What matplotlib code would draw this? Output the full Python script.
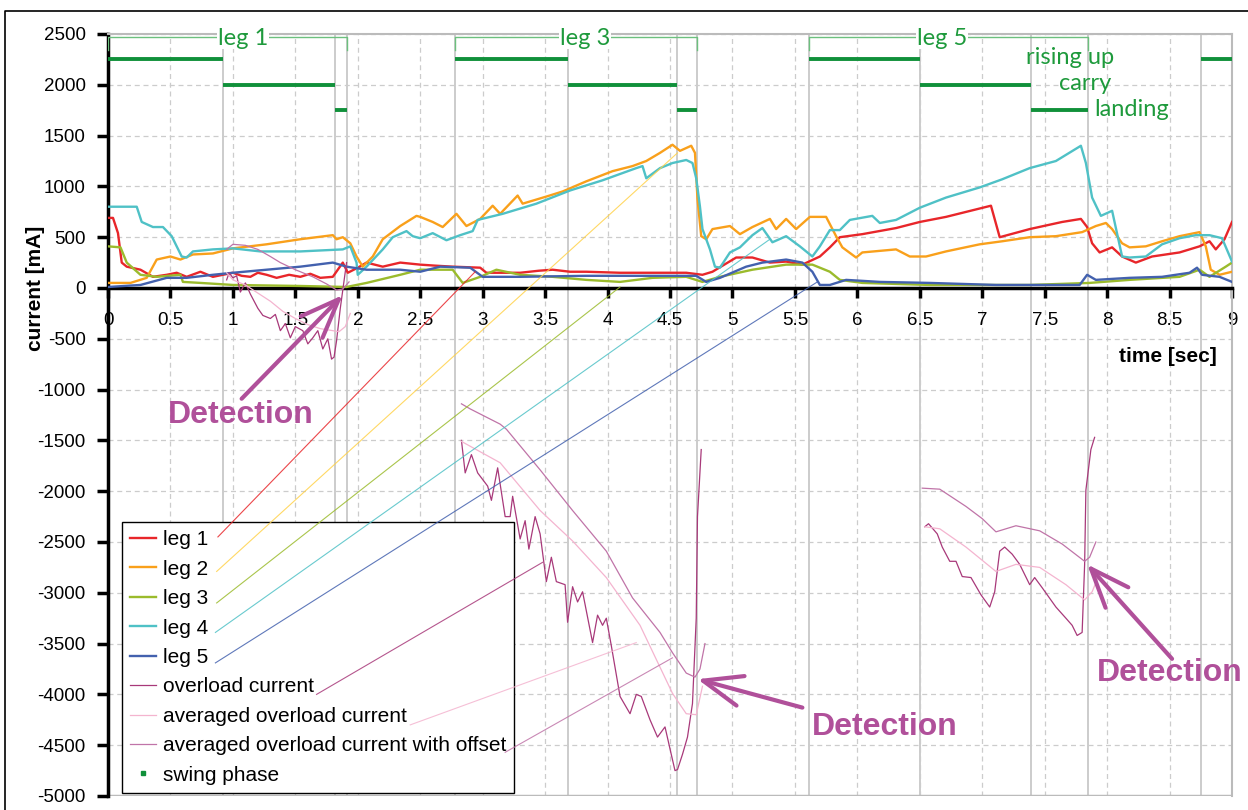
import numpy as np
import matplotlib.pyplot as plt
from matplotlib.lines import Line2D

nan = np.nan

# leg currents [mA] over time [sec]
leg1_t = [0, 0.04, 0.08, 0.11, 0.15, 0.26, 0.36, 0.47, 0.55, 0.63, 0.74, 0.84, 1.0, 1.07, 1.14, 1.2, 1.27, 1.35, 1.45,
          1.54, 1.62, 1.7, 1.8, 1.88, 1.92, 2.0, 2.07, 2.2, 2.34, 2.5, 2.62, 2.76, 2.98, 3.03, 3.3, 3.45, 3.56, 3.7, 3.83,
          4.1, 4.36, 4.63, 4.76, 4.84, 5.03, 5.16, 5.3, 5.43, 5.56, 5.7, 5.78, 5.86, 6.04, 6.31, 6.5, 6.71, 7.07, 7.14,
          7.38, 7.64, 7.79, 7.84, 7.88, 7.94, 8.04, 8.12, 8.23, 8.36, 8.58, 8.74, 8.82, 8.87, 8.94, 9.0]
leg1_v = [690, 690, 540, 250, 210, 180, 110, 130, 150, 110, 160, 110, 150, 120, 110, 150, 130, 100, 130,
          110, 140, 100, 110, 250, 150, 200, 250, 210, 250, 230, 220, 210, 200, 150, 150, 170, 180, 160, 160,
          150, 150, 150, 130, 160, 300, 300, 250, 260, 230, 310, 400, 500, 530, 590, 650, 700, 810, 500,
          580, 650, 680, 600, 440, 350, 400, 310, 250, 310, 350, 410, 460, 380, 480, 650]

leg2_t = [0, 0.18, 0.31, 0.39, 0.5, 0.58, 0.68, 0.84, 1.0, 1.27, 1.54, 1.8, 1.83, 1.88, 1.94, 1.99, 2.04, 2.12, 2.2,
          2.34, 2.47, 2.5, 2.6, 2.68, 2.79, 2.87, 2.98, 3.08, 3.14, 3.28, 3.32, 3.51, 3.64, 3.83, 4.04, 4.2, 4.31,
          4.42, 4.52, 4.58, 4.67, 4.7, 4.72, 4.75, 4.79, 4.84, 4.98, 5.06, 5.16, 5.3, 5.35, 5.43, 5.51, 5.62, 5.75,
          5.83, 5.88, 5.99, 6.04, 6.31, 6.42, 6.55, 6.71, 6.98, 7.16, 7.38, 7.59, 7.8, 7.91, 7.99, 8.04, 8.12, 8.18,
          8.31, 8.44, 8.58, 8.74, 8.79, 8.83, 8.9, 9.0]
leg2_v = [50, 50, 100, 280, 310, 280, 330, 340, 390, 430, 480, 520, 480, 500, 440, 310, 210, 310, 480,
          610, 710, 700, 650, 600, 730, 610, 680, 810, 730, 910, 830, 900, 950, 1050, 1150, 1200, 1250,
          1330, 1410, 1350, 1400, 1330, 880, 510, 480, 580, 610, 530, 600, 680, 580, 680, 580, 700, 700,
          510, 400, 300, 350, 380, 310, 310, 360, 430, 460, 500, 510, 550, 610, 640, 580, 440, 400,
          410, 460, 510, 550, 410, 180, 130, 160]

leg3_t = [0, 0.1, 0.15, 0.26, 0.39, 0.58, 0.6, 0.74, 1.0, 1.54, 1.91, 2.07, 2.34, 2.5, 2.76, 2.84, 2.98, 3.11, 3.3,
          3.56, 3.83, 4.1, 4.36, 4.63, 4.76, 4.9, 5.16, 5.43, 5.64, 5.78, 5.86, 6.04, 6.58, 7.38, 7.86, 8.18, 8.58,
          8.74, 8.82, 8.95, 9.0]
leg3_v = [410, 400, 250, 130, 110, 130, 60, 50, 30, 20, 10, 50, 130, 180, 180, 50, 110, 180, 130,
          110, 80, 60, 100, 110, 60, 110, 180, 230, 230, 160, 80, 50, 30, 30, 50, 80, 110,
          180, 110, 210, 250]

leg4_t = [0, 0.23, 0.27, 0.36, 0.44, 0.51, 0.59, 0.63, 0.68, 0.84, 1.0, 1.22, 1.54, 1.88, 1.94, 1.99, 2.0, 2.07, 2.2,
          2.28, 2.39, 2.44, 2.5, 2.6, 2.71, 2.82, 2.92, 2.96, 3.16, 3.43, 3.7, 3.96, 4.23, 4.28, 4.31, 4.42, 4.52,
          4.63, 4.68, 4.71, 4.74, 4.76, 4.82, 4.86, 4.9, 4.98, 5.06, 5.16, 5.24, 5.32, 5.43, 5.54, 5.64, 5.7, 5.78,
          5.86, 5.94, 6.12, 6.18, 6.31, 6.5, 6.71, 6.98, 7.16, 7.38, 7.59, 7.79, 7.83, 7.88, 7.95, 8.04, 8.12, 8.18,
          8.31, 8.44, 8.58, 8.71, 8.82, 8.92, 9.0]
leg4_v = [800, 800, 650, 600, 600, 510, 310, 300, 360, 380, 390, 360, 360, 380, 410, 250, 130, 210, 380,
          500, 560, 510, 490, 540, 470, 520, 560, 670, 730, 830, 960, 1060, 1180, 1200, 1080, 1180, 1230,
          1260, 1230, 1080, 800, 580, 380, 210, 200, 350, 400, 520, 590, 450, 510, 410, 310, 410, 570,
          570, 670, 710, 640, 670, 790, 890, 990, 1070, 1180, 1250, 1400, 1230, 890, 710, 760, 310, 300,
          310, 430, 490, 520, 520, 490, 260]

leg5_t = [0, 0.26, 0.47, 0.63, 0.84, 1.0, 1.27, 1.54, 1.8, 1.91, 2.07, 2.34, 2.5, 2.66, 2.9, 3.0, 3.3, 3.83, 4.36,
          4.71, 4.79, 4.9, 5.11, 5.24, 5.43, 5.56, 5.64, 5.7, 5.78, 5.91, 6.18, 6.58, 7.11, 7.78, 7.84, 7.91, 8.18,
          8.44, 8.66, 8.72, 8.76, 8.9, 9.0]
leg5_v = [10, 30, 100, 100, 130, 150, 180, 210, 250, 210, 180, 180, 160, 210, 200, 110, 110, 120, 120,
          120, 60, 100, 210, 250, 280, 250, 160, 30, 30, 80, 60, 50, 30, 30, 130, 80, 100,
          110, 150, 200, 130, 110, 60]

# overload detection signals (three windows, gaps as nan)
over_t = [0.95, 0.97, 1.0, 1.03, 1.06, 1.1, 1.14, 1.2, 1.24, 1.3, 1.34, 1.38, 1.42, 1.46, 1.5, 1.56, 1.6, 1.64,
          1.68, 1.72, 1.76, 1.79, 1.81, 1.83, 1.86, 1.88, 1.91, nan,
          2.83, 2.86, 2.91, 2.96, 3.04, 3.07, 3.12, 3.18, 3.22, 3.24, 3.3, 3.34, 3.37, 3.42, 3.46, 3.51, 3.55,
          3.59, 3.66, 3.68, 3.72, 3.76, 3.8, 3.88, 3.92, 3.96, 3.99, 4.03, 4.1, 4.18, 4.23, 4.27, 4.34, 4.4,
          4.46, 4.51, 4.54, 4.56, 4.6, 4.64, 4.68, 4.71, 4.72, 4.75, nan,
          6.54, 6.57, 6.64, 6.68, 6.74, 6.79, 6.84, 6.91, 6.99, 7.06, 7.1, 7.14, 7.18, 7.24, 7.3, 7.38, 7.42,
          7.48, 7.59, 7.67, 7.72, 7.76, 7.8, 7.82, 7.83, 7.87, 7.9]
over_v = [80, 150, 100, 120, -40, 50, -60, -200, -270, -300, -260, -420, -350, -490, -380, -420, -550, -490,
          -420, -600, -500, -700, -680, -520, -200, -20, 250, nan,
          -1500, -1820, -1640, -1820, -1950, -2090, -1770, -2250, -2250, -2050, -2470, -2290, -2570, -2250,
          -2420, -2890, -2650, -2890, -2920, -3290, -2940, -3090, -2990, -3490, -3220, -3320, -3250, -3520,
          -4020, -4190, -4000, -4020, -4250, -4420, -4320, -4590, -4750, -4740, -4590, -4420, -4090, -3250,
          -2250, -1590, nan,
          -2350, -2320, -2420, -2550, -2690, -2690, -2840, -2850, -3020, -3140, -2990, -2590, -2550, -2620,
          -2720, -2920, -2850, -2950, -3140, -3250, -3320, -3420, -3390, -2720, -1990, -1590, -1470]

avg_t = [0.95, 1.0, 1.1, 1.2, 1.3, 1.4, 1.5, 1.6, 1.7, 1.8, 1.85, 1.9, 1.94, nan,
         2.83, 3.14, 3.46, 3.72, 3.99, 4.26, 4.52, 4.63, 4.71, 4.76, nan,
         6.54, 6.66, 6.87, 7.11, 7.27, 7.46, 7.67, 7.82, 7.88, 7.92]
avg_v = [150, 80, 30, -50, -130, -230, -300, -360, -400, -420, -430, -380, -250, nan,
         -1510, -1720, -2190, -2490, -2850, -3320, -3990, -4190, -4200, -3920, nan,
         -2350, -2370, -2550, -2790, -2720, -2750, -2920, -3070, -2990, -2870]

offs_t = [0.95, 1.0, 1.1, 1.2, 1.3, 1.38, 1.5, 1.64, 1.75, 1.83, 1.88, 1.93, nan,
          2.83, 2.9, 3.14, 3.19, 3.46, 3.72, 3.99, 4.2, 4.42, 4.52, 4.63, 4.7, 4.74, 4.78, nan,
          6.52, 6.66, 6.87, 7.0, 7.11, 7.27, 7.46, 7.64, 7.82, 7.86, 7.91]
offs_v = [380, 430, 420, 380, 310, 250, 180, 110, 40, -20, -10, 60, nan,
          -1140, -1190, -1340, -1390, -1790, -2190, -2590, -3050, -3390, -3590, -3790, -3830, -3750, -3500, nan,
          -1970, -1980, -2150, -2270, -2400, -2340, -2390, -2520, -2690, -2650, -2500]

# swing phases: (start, end) per phase level
rising = [(0, 0.92), (2.78, 3.68), (5.61, 6.5), (8.75, 9.0)]
carry = [(0.92, 1.82), (3.68, 4.56), (6.5, 7.39)]
landing = [(1.82, 1.91), (4.56, 4.72), (7.39, 7.85)]
phase_bounds = [0.92, 1.82, 1.91, 2.78, 3.68, 4.56, 4.72, 5.61, 6.5, 7.39, 7.85, 8.75]
swing_legs = [("leg 1", 0, 1.91, 1.08), ("leg 3", 2.78, 4.72, 3.82), ("leg 5", 5.61, 7.85, 6.68)]

# legend leader lines: (t0, v0, t1, v1)
leaders = [(0.88, -2450, 2.94, 160), (0.87, -2790, 4.56, 1330), (0.87, -3100, 4.1, 10),
           (0.86, -3390, 5.3, 480), (0.86, -3690, 5.68, 60), (1.67, -4000, 3.48, -2700),
           (2.42, -4300, 4.23, -3490), (3.18, -4570, 4.52, -3640)]

# detection arrows: tail, tip, text position
detections = [((1.07, -1090), (1.88, -70), (1.06, -1250)),
              ((5.56, -4130), (4.72, -3850), (6.22, -4320)),
              ((8.52, -3650), (7.84, -2720), (8.5, -3790))]

c_leg = ['#e8262a', '#f9a01b', '#9bbb2c', '#4fc1c6', '#4361ae']
c_over = '#a8397a'
c_avg = '#f4b4cf'
c_offs = '#c074a8'
c_swing = '#10903a'
c_det = '#b0509a'

plt.rcParams['font.family'] = ['Liberation Sans', 'DejaVu Sans']
plt.rcParams['axes.unicode_minus'] = False

fig = plt.figure(figsize=(12.48, 8.10), dpi=100)
ax = fig.add_axes([108 / 1248, 1 - 796 / 810, 1124 / 1248, 762 / 810])

# outer border (top/left)
fig.add_artist(Line2D([5 / 1248, 5 / 1248, 1.0], [0, 1 - 11 / 810, 1 - 11 / 810],
                      transform=fig.transFigure, color='black', lw=1.2))

ax.set_xlim(0, 9)
ax.set_ylim(-5000, 2500)
ax.set_xticks(np.arange(0, 9.01, 0.5))
ax.set_xticklabels(['%g' % v for v in np.arange(0, 9.01, 0.5)])
ax.set_yticks(np.arange(-5000, 2501, 500))
ax.grid(True, color='#cccccc', linestyle=(0, (4, 3)), lw=0.9)
ax.set_axisbelow(True)

for b in phase_bounds:
    ax.axvline(b, color='#c8c8c8', lw=1.3, zorder=0.4)

ax.spines['bottom'].set_position(('data', 0))
ax.spines['bottom'].set_linewidth(2.5)
ax.spines['left'].set_linewidth(2.5)
ax.spines['top'].set_color('#bbbbbb')
ax.spines['right'].set_color('#bbbbbb')
ax.spines['top'].set_linewidth(1.5)
ax.spines['right'].set_linewidth(1.5)
ax.axhline(-5000, color='#bbbbbb', lw=2.5, zorder=1)
ax.tick_params(axis='x', direction='out', length=7, width=2.5, pad=10, labelsize=13.5)
ax.tick_params(axis='y', direction='out', length=8, width=2.5, pad=8, labelsize=13.5)
ax.set_ylabel('current [mA]', fontsize=15, fontweight='bold')
ax.yaxis.set_label_coords(-0.056, (796 - 288) / 762)
ax.text(8.88, -670, 'time [sec]', fontsize=15, fontweight='bold', ha='right', va='center')

# leader lines (drawn over the legend box)
leader_colors = ['#e8262a', '#ffd24a', '#9bbb2c', '#4fc1c6', '#4361ae', c_over, c_avg, c_offs]
for (t0, v0, t1, v1), c in zip(leaders, leader_colors):
    ax.plot([t0, t1], [v0, v1], color=c, lw=0.8, alpha=0.85, zorder=9)

names = ['leg 1', 'leg 2', 'leg 3', 'leg 4', 'leg 5']
for t, v, c, n in zip([leg1_t, leg2_t, leg3_t, leg4_t, leg5_t],
                      [leg1_v, leg2_v, leg3_v, leg4_v, leg5_v], c_leg, names):
    ax.plot(t, v, color=c, lw=1.7, zorder=3, label=n)

ax.plot(over_t, over_v, color=c_over, lw=0.9, zorder=4, label='overload current')
ax.plot(avg_t, avg_v, color=c_avg, lw=0.9, zorder=4, label='averaged overload current')
ax.plot(offs_t, offs_v, color=c_offs, lw=0.9, zorder=4, label='averaged overload current with offset')

# swing phases
for y, segs in zip([2250, 2000, 1750], [rising, carry, landing]):
    for s, e in segs:
        ax.plot([s, e], [y, y], color=c_swing, lw=2.8, solid_capstyle='butt', zorder=5)

for name, s, e, tc in swing_legs:
    ax.plot([s, s, e, e], [2340, 2475, 2475, 2340], color='#6cc07e', lw=1.0, zorder=5)
    ax.text(tc, 2460, name, family=['Lato', 'DejaVu Sans'], fontsize=17, color='#1e9a3c', ha='center',
            va='center', zorder=6, bbox=dict(facecolor='white', edgecolor='none', pad=0.5))

ax.text(7.70, 2270, 'rising up', family=['Lato', 'DejaVu Sans'], fontsize=17, color='#1e9a3c', ha='center',
        va='center', zorder=6)
ax.text(7.82, 2010, 'carry', family=['Lato', 'DejaVu Sans'], fontsize=17, color='#1e9a3c', ha='center',
        va='center', zorder=6)
ax.text(7.90, 1760, 'landing', family=['Lato', 'DejaVu Sans'], fontsize=17, color='#1e9a3c', ha='left',
        va='center', zorder=6)

# detection arrows
for tail, tip, pos in detections:
    ax.annotate('', xy=tip, xytext=tail,
                arrowprops=dict(arrowstyle='->,head_length=1.4,head_width=0.55', color=c_det, lw=3,
                                mutation_scale=20, shrinkA=0, shrinkB=0), zorder=7)
    ax.text(pos[0], pos[1], 'Detection', fontsize=23, fontweight='bold', color=c_det, ha='center',
            va='center', zorder=7)

handles, labels = ax.get_legend_handles_labels()
handles.append(Line2D([], [], color=c_swing, marker='s', markersize=3.5, linestyle='none'))
labels.append('swing phase')
leg = ax.legend(handles, labels, loc='upper left', bbox_to_anchor=((122 - 108) / 1124, (796 - 522) / 762),
                borderaxespad=0, fontsize=15, frameon=True, fancybox=False, edgecolor='black',
                framealpha=1, handlelength=1.25, handletextpad=0.3, borderpad=0.4, labelspacing=0.5)
leg.get_frame().set_linewidth(1.0)
leg.set_zorder(8)

fig.savefig('out.png', dpi=100)
